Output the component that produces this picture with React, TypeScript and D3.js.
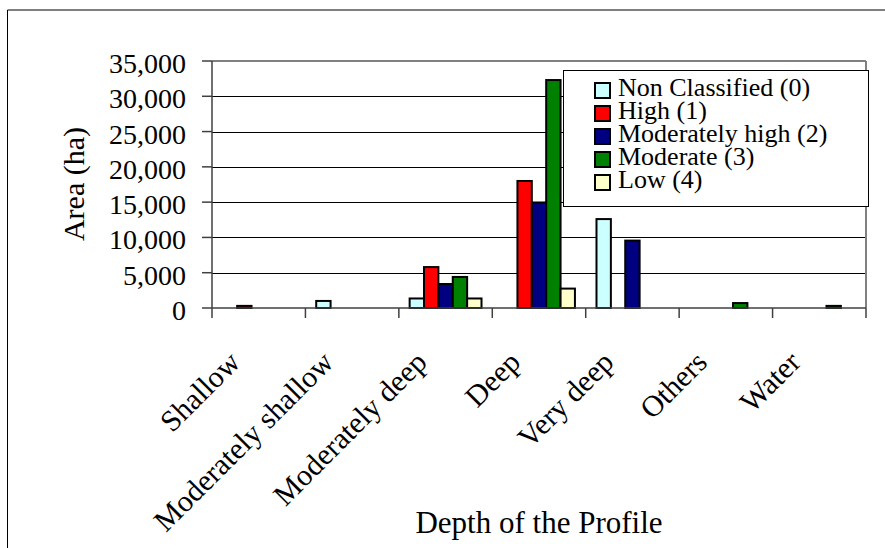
import React from "react";
import * as d3 from "d3";

const categories = ["Shallow", "Moderately shallow", "Moderately deep", "Deep", "Very deep", "Others", "Water"];
const seriesNames = ["Non Classified (0)", "High (1)", "Moderately high (2)", "Moderate (3)", "Low (4)"];
const seriesColors = ["#CCFFFF", "#FF0000", "#000080", "#008000", "#FFFFCC"];
const nonClassified = [0, 1000, 1350, 0, 12600, 0, 0];
const high = [300, 0, 5800, 18000, 0, 0, 0];
const moderatelyHigh = [0, 0, 3400, 14950, 9550, 0, 0];
const moderate = [0, 0, 4400, 32300, 0, 700, 300];
const low = [0, 0, 1350, 2750, 0, 0, 0];
const yTicks = [0, 5000, 10000, 15000, 20000, 25000, 30000, 35000];

const series = [nonClassified, high, moderatelyHigh, moderate, low];

export default function App() {
  const left = 212, right = 866, top = 61, bottom = 308;
  const x = d3.scaleBand().domain(categories).range([left, right]);
  const y = d3.scaleLinear().domain([0, 35000]).range([bottom, top]);
  const bw = x.bandwidth() / 6.5;
  const offset = (x.bandwidth() - bw * 5) / 2;
  const fmt = d3.format(",");

  return (
    <svg width={885} height={548} fontFamily="Liberation Serif" style={{ position: "fixed", left: 0, top: 0, background: "#fff" }}>
      <rect x={0} y={0} width={885} height={548} fill="#fff" />
      <line x1={7.5} y1={10} x2={885} y2={10} stroke="#000" strokeWidth={1} />
      <line x1={7.5} y1={10} x2={7.5} y2={548} stroke="#000" strokeWidth={1} />

      {yTicks.filter(t => t > 0 && t < 35000).map(t => (
        <line key={t} x1={left} x2={right} y1={Math.round(y(t)) + 0.5} y2={Math.round(y(t)) + 0.5} stroke="#000" strokeWidth={1} />
      ))}
      <line x1={left} x2={right} y1={y(35000)} y2={y(35000)} stroke="#808080" strokeWidth={2} />
      <line x1={right} x2={right} y1={y(35000)} y2={bottom} stroke="#808080" strokeWidth={2} />

      {series.map((vals, si) =>
        vals.map((v, ci) => {
          if (!v) return null;
          const bx = (x(categories[ci]) as number) + offset + si * bw;
          return (
            <rect key={si + "-" + ci} x={bx} y={y(v)} width={bw} height={bottom - y(v)}
              fill={seriesColors[si]} stroke="#000" strokeWidth={2} />
          );
        })
      )}

      <line x1={left} x2={left} y1={y(35000)} y2={bottom} stroke="#404040" strokeWidth={1.5} />
      <line x1={left} x2={right} y1={bottom} y2={bottom} stroke="#404040" strokeWidth={1.5} />
      {yTicks.map(t => (
        <g key={t}>
          <line x1={left - 10} x2={left} y1={y(t)} y2={y(t)} stroke="#404040" strokeWidth={1.5} />
          <text x={186} y={y(t) + 12} textAnchor="end" fontFamily="Liberation Serif" fontSize={28} fill="#000">{fmt(t)}</text>
        </g>
      ))}
      {categories.map((c, i) => {
        const tx = left + i * x.step();
        return <line key={"t" + i} x1={tx} x2={tx} y1={bottom} y2={bottom + 10} stroke="#404040" strokeWidth={1.5} />;
      })}
      <line x1={right} x2={right} y1={bottom} y2={bottom + 10} stroke="#404040" strokeWidth={1.5} />

      {categories.map(c => {
        const cx = (x(c) as number) + x.bandwidth() / 2;
        const ax = cx - 17, ay = 364;
        return (
          <text key={c} x={ax} y={ay} textAnchor="end" fontFamily="Liberation Serif" fontSize={30} transform={`rotate(-45 ${ax} ${ay})`} fill="#000">{c}</text>
        );
      })}

      <text x={84} y={184} textAnchor="middle" fontFamily="Liberation Serif" fontSize={30} transform="rotate(-90 84 184)" fill="#000">Area (ha)</text>
      <text x={539} y={533} textAnchor="middle" fontFamily="Liberation Serif" fontSize={31} fill="#000">Depth of the Profile</text>

      <rect x={563.5} y={70.5} width={305} height={136} fill="#fff" stroke="#000" strokeWidth={1} />
      {seriesNames.map((n, i) => (
        <rect key={n} x={595} y={83 + i * 23} width={15} height={15} fill={seriesColors[i]} stroke="#000" strokeWidth={2} />
      ))}
      <text x={618} y={95.7} fontFamily="Liberation Serif" fontSize={26} fill="#000">
        {seriesNames.map((n, i) => (
          <tspan key={n} x={618} y={95.7 + i * 23}>{n}</tspan>
        ))}
      </text>
    </svg>
  );
}
